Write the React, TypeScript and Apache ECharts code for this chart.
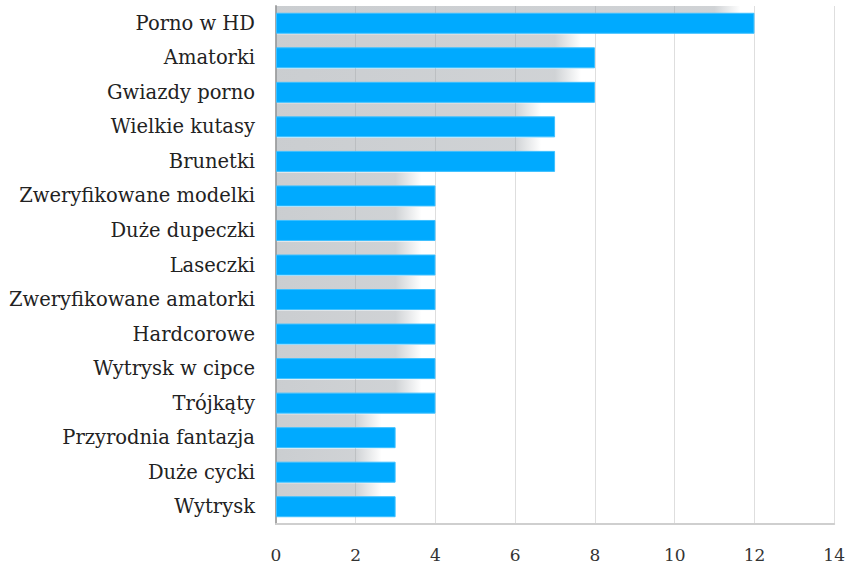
import React, { useEffect, useRef } from "react";
import * as echarts from "echarts";

const categories = [
  "Porno w HD",
  "Amatorki",
  "Gwiazdy porno",
  "Wielkie kutasy",
  "Brunetki",
  "Zweryfikowane modelki",
  "Duże dupeczki",
  "Laseczki",
  "Zweryfikowane amatorki",
  "Hardcorowe",
  "Wytrysk w cipce",
  "Trójkąty",
  "Przyrodnia fantazja",
  "Duże cycki",
  "Wytrysk",
];
const values = [12, 8, 8, 7, 7, 4, 4, 4, 4, 4, 4, 4, 3, 3, 3];
const xTicks = { min: 0, max: 14, interval: 2 };

const FONT = "'DejaVu Serif', serif";

export default function App() {
  const ref = useRef<HTMLDivElement>(null);
  useEffect(() => {
    document.body.style.margin = "0";
    const chart = echarts.init(ref.current!, null, { renderer: "svg" });
    chart.setOption({
      animation: false,
      grid: { left: 276, right: 13, top: 6, bottom: 40, containLabel: false },
      xAxis: {
        type: "value",
        min: xTicks.min,
        max: xTicks.max,
        interval: xTicks.interval,
        axisLine: { show: true, lineStyle: { color: "#cfcfcf", width: 2 } },
        axisTick: { show: false },
        splitLine: { show: true, lineStyle: { color: "#dedede", width: 1 } },
        axisLabel: { color: "#333", fontFamily: FONT, fontSize: 17, margin: 22 },
      },
      yAxis: {
        type: "category",
        inverse: true,
        data: categories,
        axisLine: { show: true, lineStyle: { color: "#a8a8a8", width: 2 } },
        axisTick: { show: false },
        axisLabel: { color: "#222", fontFamily: FONT, fontSize: 19.5, margin: 21 },
      },
      series: [
        {
          type: "custom",
          clip: true,
          z: 1,
          data: values.map((v, i) => [v, i]),
          encode: { x: 0, y: 1 },
          renderItem: (params: any, api: any) => {
            const v = api.value(0);
            const idx = api.value(1);
            const start = api.coord([0, idx]);
            const end = api.coord([v, idx]);
            const h = 21;
            const x0 = start[0];
            const x1 = end[0] - 14;
            const w = Math.max(0, x1 - x0);
            const fadeLen = 26;
            const f = w > 0 ? Math.max(0, 1 - fadeLen / w) : 0;
            return {
              type: "rect",
              shape: { x: x0, y: start[1] - h / 2 - 13, width: w, height: h },
              style: {
                fill: new echarts.graphic.LinearGradient(0, 0, 1, 0, [
                  { offset: 0, color: "rgba(150,156,162,0.5)" },
                  { offset: f, color: "rgba(150,156,162,0.45)" },
                  { offset: 1, color: "rgba(150,156,162,0)" },
                ]),
              },
            };
          },
        },
        {
          type: "bar",
          z: 2,
          data: values,
          barWidth: 21,
          itemStyle: { color: "#00aaff", borderColor: "#3ec0ff", borderWidth: 1 },
        },
      ],
    });
    return () => chart.dispose();
  }, []);
  return <div ref={ref} style={{ width: 848, height: 564 }} />;
}
